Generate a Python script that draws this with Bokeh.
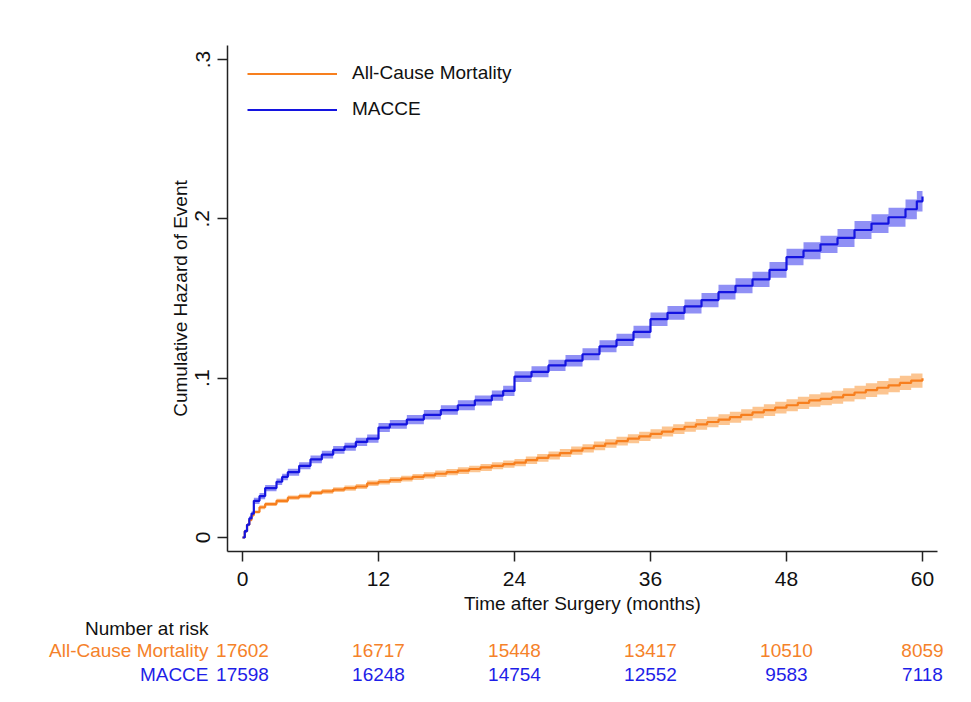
from bokeh.plotting import figure
from bokeh.models import (Range1d, FixedTicker, Legend, LegendItem)
from bokeh.core.properties import value
from bokeh.embed import file_html
from bokeh.resources import INLINE

# ---------------- data ----------------
mace_t = [0, 0.2, 0.4, 0.6, 0.8, 1.0, 1.5, 2.0, 3.0, 3.5, 4.0, 5.0, 6.0, 7.0, 8.0,
          9.0, 10.0, 11.0, 12.0, 13.0, 14.5, 16.0, 17.5, 19.0, 20.5, 22.0, 23.0,
          24.0, 25.5, 27.0, 28.5, 30.0, 31.5, 33.0, 34.5, 36.0, 37.5, 39.0, 40.5,
          42.0, 43.5, 45.0, 46.5, 48.0, 49.5, 51.0, 52.5, 54.0, 55.5, 57.0, 58.5,
          59.5, 60.0]
mace_h = [0.000, 0.004, 0.008, 0.012, 0.015, 0.023, 0.026, 0.031, 0.035, 0.038,
          0.041, 0.045, 0.049, 0.052, 0.055, 0.057, 0.060, 0.062, 0.069, 0.071,
          0.074, 0.077, 0.080, 0.083, 0.086, 0.089, 0.092, 0.101, 0.104, 0.108,
          0.111, 0.115, 0.120, 0.124, 0.129, 0.137, 0.141, 0.145, 0.149, 0.154,
          0.158, 0.162, 0.168, 0.176, 0.180, 0.184, 0.188, 0.193, 0.197, 0.201,
          0.206, 0.211, 0.214]
mace_ci = [0.0, 0.001, 0.001, 0.0015, 0.0015,
           0.002, 0.002, 0.002, 0.002, 0.002,
           0.0022, 0.0022, 0.0024, 0.0024, 0.0025,
           0.0025, 0.0026, 0.0026, 0.0028, 0.0028,
           0.0029, 0.003, 0.003, 0.0031, 0.0031,
           0.0032, 0.0032, 0.0034, 0.0035, 0.0035,
           0.0036, 0.0037, 0.0038, 0.0038, 0.0039,
           0.0042, 0.0043, 0.0044, 0.0045, 0.0046,
           0.0047, 0.0048, 0.0049, 0.0052, 0.0053,
           0.0054, 0.0056, 0.0057, 0.0059, 0.0060,
           0.0062, 0.0064, 0.0066]

mort_t = [0, 0.2, 0.4, 0.6, 0.8, 1.0, 1.5, 2, 3, 4, 5, 6, 7, 8, 9, 10, 11, 12,
          13, 14, 15, 16, 17, 18, 19, 20, 21, 22, 23, 24, 25, 26, 27, 28, 29, 30,
          31, 32, 33, 34, 35, 36, 37, 38, 39, 40, 41, 42, 43, 44, 45, 46, 47, 48,
          49, 50, 51, 52, 53, 54, 55, 56, 57, 58, 59, 60]
mort_h = [0.000, 0.004, 0.008, 0.011, 0.014, 0.016, 0.019, 0.021,
          0.023, 0.025, 0.026, 0.028, 0.029, 0.030, 0.031, 0.032, 0.034, 0.035,
          0.036, 0.037, 0.038, 0.039, 0.040, 0.041, 0.042, 0.043, 0.044, 0.045,
          0.046, 0.047,
          0.0485, 0.050, 0.0515, 0.053, 0.0545, 0.056, 0.0575, 0.059, 0.0605,
          0.062, 0.0635, 0.065,
          0.0665, 0.068, 0.0695, 0.071, 0.0725, 0.074, 0.0755, 0.077, 0.0785,
          0.080, 0.0815, 0.083,
          0.0845, 0.086, 0.087, 0.088, 0.0895, 0.091, 0.0925, 0.094, 0.0955,
          0.097, 0.0985, 0.100]
mort_ci = [0.0, 0.0006, 0.0008, 0.001, 0.001, 0.001, 0.0012, 0.0012,
           0.0013, 0.0013, 0.0014, 0.0014, 0.0015, 0.0015, 0.0016, 0.0016, 0.0017, 0.0017,
           0.0018, 0.0018, 0.0019, 0.0019, 0.002, 0.002, 0.0021, 0.0021, 0.0022, 0.0022,
           0.0023, 0.0023,
           0.0024, 0.0024, 0.0025, 0.0025, 0.0026, 0.0026, 0.0027, 0.0027, 0.0028,
           0.0028, 0.0029, 0.0030,
           0.0031, 0.0031, 0.0032, 0.0033, 0.0033, 0.0034, 0.0035, 0.0035, 0.0036,
           0.0037, 0.0037, 0.0038,
           0.0039, 0.0039, 0.0040, 0.0041, 0.0041, 0.0042, 0.0043, 0.0043, 0.0044,
           0.0045, 0.0045, 0.0046]

x_ticks = [0, 12, 24, 36, 48, 60]
y_ticks = [0, 0.1, 0.2, 0.3]
y_tick_labels = ["0", ".1", ".2", ".3"]

series_names = ["All-Cause Mortality", "MACCE"]
risk_title = "Number at risk"
risk_mort = [17602, 16717, 15448, 13417, 10510, 8059]
risk_mace = [17598, 16248, 14754, 12552, 9583, 7118]

# ---------------- styles / layout ----------------
FONT = "Liberation Sans"
ORANGE = "#F77F1E"
ORANGE_BAND = "#FCC591"
BLUE = "#1414E0"
BLUE_BAND = "#9090F5"
ORANGE_TXT = "#F5822A"
BLUE_TXT = "#1E1EE8"

W, H = 971, 702
# page pixel positions of the data frame: x=0 -> 242, x=60 -> 922 ; y=0 -> 537, y=.3 -> 59
PX_X0, PX_X60 = 242, 922
PX_Y0, PX_Y3 = 537, 59
ppx = (PX_X60 - PX_X0) / 60.0
ppy = (PX_Y0 - PX_Y3) / 0.3
x_range = Range1d(-PX_X0 / ppx, (W - PX_X0) / ppx)
y_range = Range1d(-(H - PX_Y0) / ppy, PX_Y0 / ppy)
AX_X = (227 - PX_X0) / ppx          # where the y axis line sits (data x)
AX_Y = (PX_Y0 - 551) / ppy          # where the x axis line sits (data y)
X_END = (937 - PX_X0) / ppx
Y_END = (PX_Y0 - 45) / ppy

p = figure(width=W, height=H, output_backend="svg", toolbar_location=None,
           x_range=x_range, y_range=y_range,
           min_border_left=0, min_border_right=0, min_border_top=0,
           min_border_bottom=0)
p.outline_line_color = None
p.xgrid.visible = False
p.ygrid.visible = False
p.background_fill_color = "white"
p.border_fill_color = "white"
p.extra_y_ranges = {"page": Range1d(H, 0)}   # page-pixel rows for the risk table

# bands
mort_lo = [h - c for h, c in zip(mort_h, mort_ci)]
mort_hi = [h + c for h, c in zip(mort_h, mort_ci)]
mace_lo = [h - c for h, c in zip(mace_h, mace_ci)]
mace_hi = [h + c for h, c in zip(mace_h, mace_ci)]

p.varea_step(x=mort_t, y1=mort_lo, y2=mort_hi, step_mode="after",
             fill_color=ORANGE_BAND, fill_alpha=1.0)
p.varea_step(x=mace_t, y1=mace_lo, y2=mace_hi, step_mode="after",
             fill_color=BLUE_BAND, fill_alpha=1.0)

r_mort = p.step(x=mort_t, y=mort_h, mode="after", line_color=ORANGE, line_width=2.2)
r_mace = p.step(x=mace_t, y=mace_h, mode="after", line_color=BLUE, line_width=2.2)

# axes (fixed inside the canvas so that the table can sit below them)
for ax in (p.xaxis[0], p.yaxis[0]):
    ax.axis_line_color = "#222222"
    ax.axis_line_width = 1.5
    ax.major_tick_line_color = "#222222"
    ax.major_tick_line_width = 1.5
    ax.major_tick_out = 10
    ax.major_tick_in = 0
    ax.minor_tick_line_color = None
    ax.major_label_text_font = FONT
    ax.major_label_text_font_size = "21px"
    ax.major_label_text_color = "#111111"
    ax.axis_label_text_font = FONT
    ax.axis_label_text_font_size = "19px"
    ax.axis_label_text_font_style = "normal"
    ax.axis_label_text_color = "#111111"

xa = p.xaxis[0]
xa.ticker = FixedTicker(ticks=x_ticks)
xa.axis_label = "Time after Surgery (months)"
xa.major_label_standoff = 10
xa.axis_label_standoff = 4
xa.fixed_location = AX_Y
xa.bounds = (AX_X, X_END)

ya = p.yaxis[0]
ya.ticker = FixedTicker(ticks=y_ticks)
ya.major_label_overrides = {t: s for t, s in zip(y_ticks, y_tick_labels)}
ya.major_label_orientation = "parallel"
ya.axis_label = "Cumulative Hazard of Event"
ya.major_label_standoff = 8
ya.axis_label_standoff = 2
ya.fixed_location = AX_X
ya.bounds = (AX_Y, Y_END)

# legend
legend = Legend(items=[LegendItem(label=series_names[0], renderers=[r_mort]),
                       LegendItem(label=series_names[1], renderers=[r_mace])],
                location=(247, 582), margin=0, padding=9, spacing=14,
                glyph_width=90, glyph_height=21, label_height=21,
                label_standoff=15, border_line_color=None,
                background_fill_alpha=0.0,
                label_text_font=FONT, label_text_font_size="19px",
                label_text_color="#111111")
p.add_layout(legend)

# ---------------- number at risk table ----------------
ROW_Y = [628, 650, 674]            # page-pixel rows
NAME_X = (208 - PX_X0) / ppx       # right edge of the row titles (data x)

p.text(x=x_ticks, y=[ROW_Y[1]] * len(x_ticks), text=[str(v) for v in risk_mort],
       y_range_name="page", text_align="center", text_baseline="middle",
       text_font=value(FONT), text_font_size="19px", text_color=ORANGE_TXT)
p.text(x=x_ticks, y=[ROW_Y[2]] * len(x_ticks), text=[str(v) for v in risk_mace],
       y_range_name="page", text_align="center", text_baseline="middle",
       text_font=value(FONT), text_font_size="19px", text_color=BLUE_TXT)
p.text(x=[NAME_X] * 3, y=ROW_Y, text=[risk_title] + series_names,
       y_range_name="page", text_align="right", text_baseline="middle",
       text_font=value(FONT), text_font_size="19px",
       text_color=["#111111", ORANGE_TXT, BLUE_TXT])

open("out.html", "w").write(file_html(p, INLINE))
